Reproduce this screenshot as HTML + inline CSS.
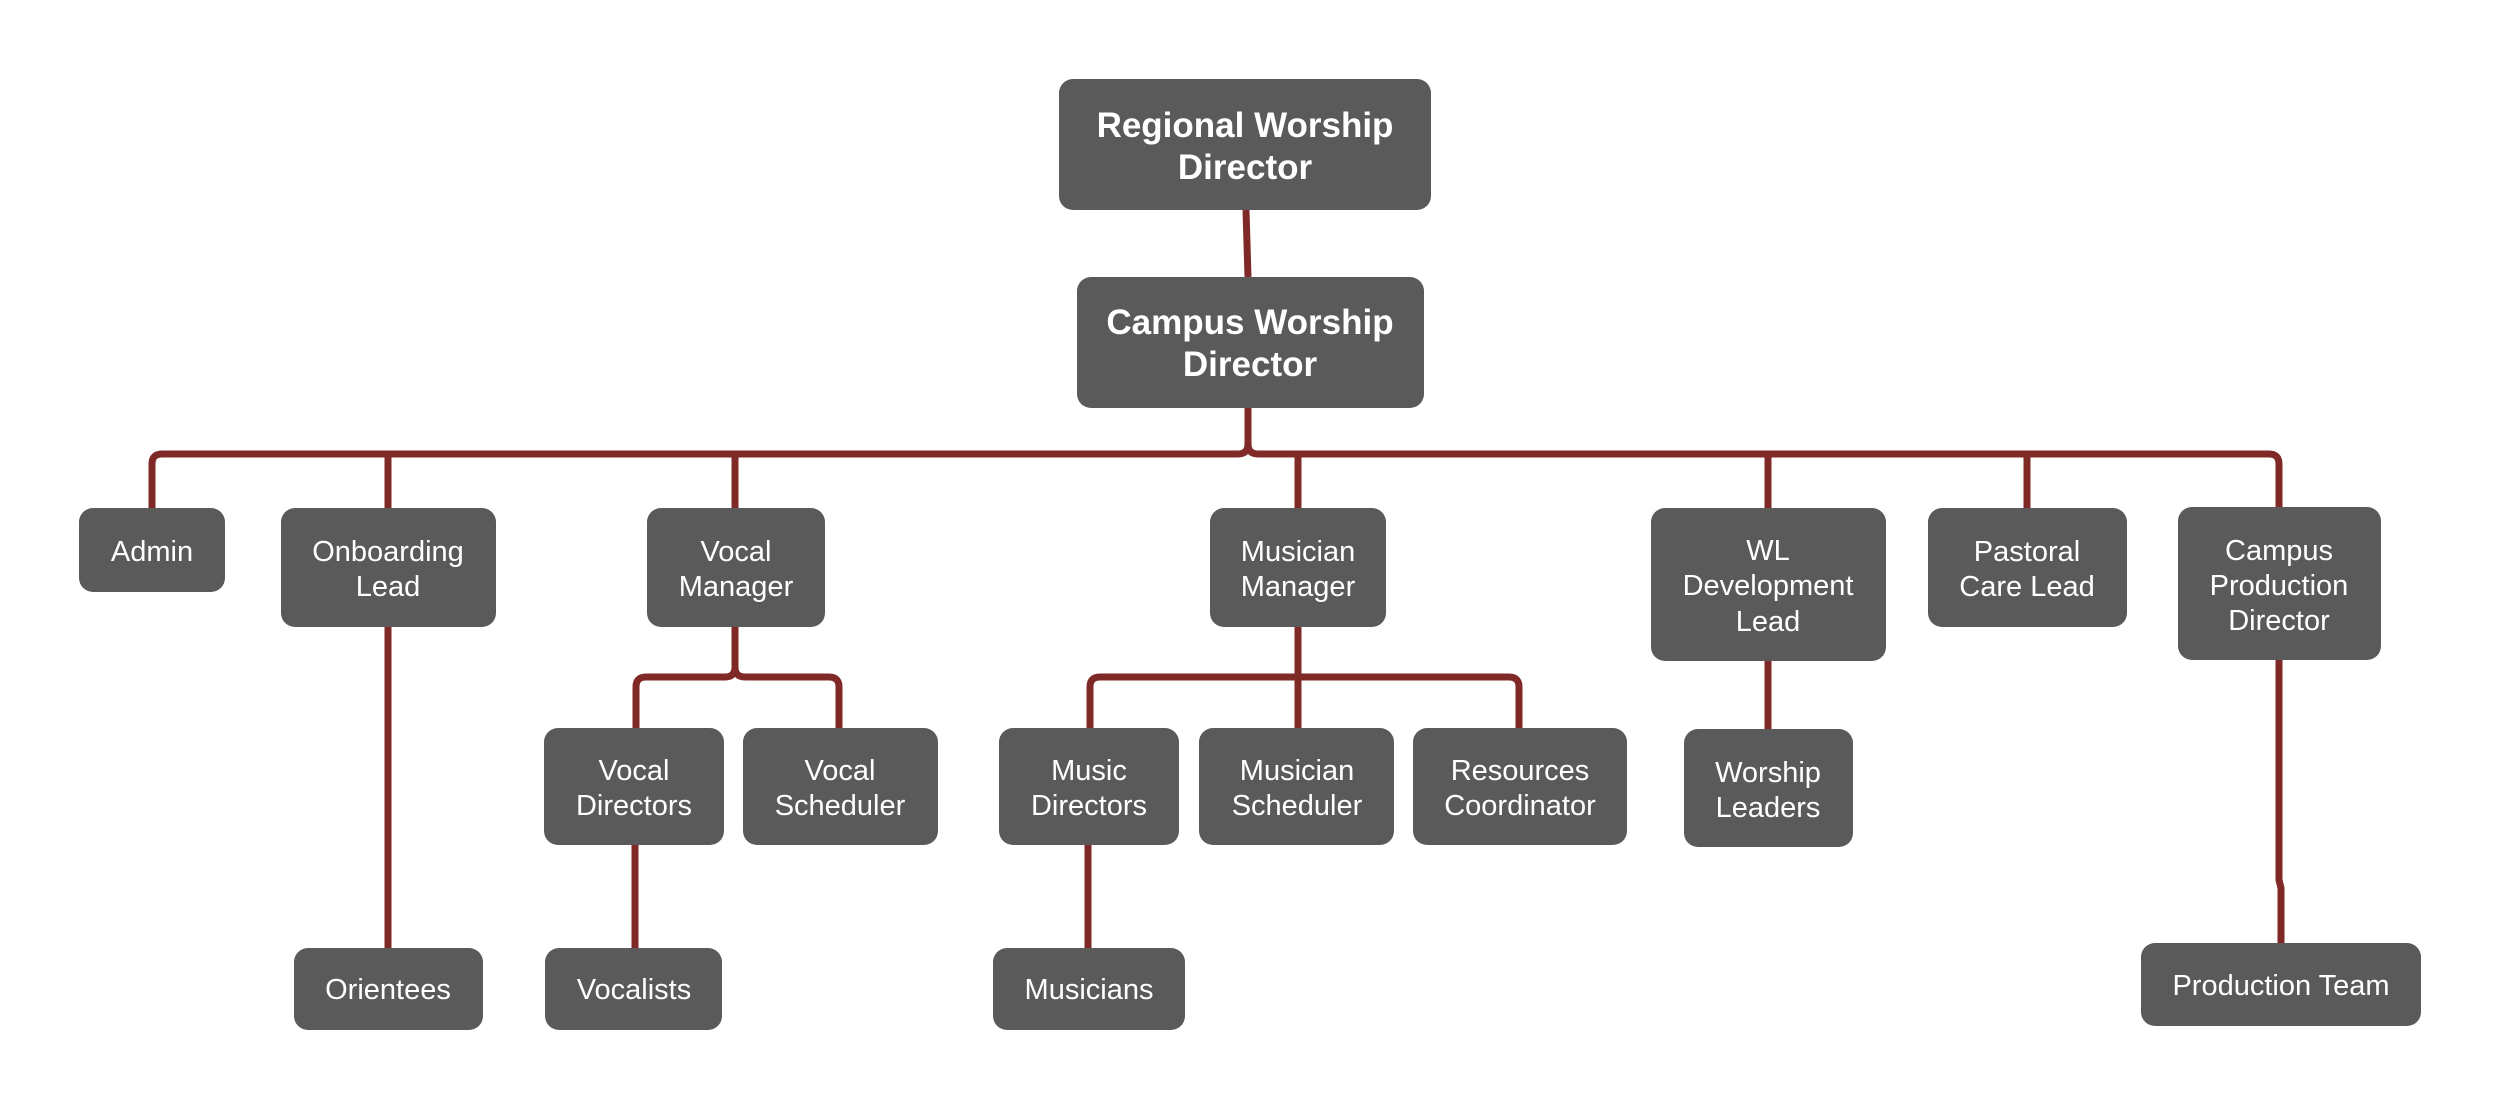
<!DOCTYPE html>
<html><head><meta charset="utf-8"><style>
html,body{margin:0;padding:0;background:#fff;}
svg{display:block}
text{font-family:"Liberation Sans",Arial,sans-serif;fill:#fff;text-anchor:middle}
.n{font-size:29px}
.b{font-size:35px;font-weight:bold}
rect{fill:#5a5a5a}
path{stroke:#7f2a27;stroke-width:7;fill:none;stroke-linejoin:round}
</style></head><body>
<svg width="2500" height="1111" viewBox="0 0 2500 1111">
<!-- connectors -->
<path d="M1246 210 L1248 277"/>
<path d="M1248 408 V444 Q1248 454 1238 454 H162 Q152 454 152 464 V508"/>
<path d="M1248 444 Q1248 454 1258 454 H2269 Q2279 454 2279 464 V507"/>
<path d="M388 454 V508 M735 454 V508 M1298 454 V508 M1768 454 V508 M2027 454 V508"/>
<path d="M735 627 V667 Q735 677 725 677 H646 Q636 677 636 687 V728"/>
<path d="M735 667 Q735 677 745 677 H829 Q839 677 839 687 V728"/>
<path d="M1298 627 V728 M1298 677 H1100 Q1090 677 1090 687 V728 M1298 677 H1509 Q1519 677 1519 687 V728"/>
<path d="M388 627 V948 M635 845 V948 M1088 845 V948 M1768 661 V729 M2279 660 V880 L2281 888 V943"/>
<!-- nodes -->
<rect x="1059" y="79" width="372" height="131" rx="14"/>
<text class="b"><tspan x="1245" y="137">Regional Worship</tspan><tspan x="1245" y="179">Director</tspan></text>
<rect x="1077" y="277" width="347" height="131" rx="14"/>
<text class="b"><tspan x="1250" y="334">Campus Worship</tspan><tspan x="1250" y="376">Director</tspan></text>

<rect x="79" y="508" width="146" height="84" rx="14"/>
<text class="n" x="152" y="561">Admin</text>
<rect x="281" y="508" width="215" height="119" rx="14"/>
<text class="n"><tspan x="388" y="561">Onboarding</tspan><tspan x="388" y="596">Lead</tspan></text>
<rect x="647" y="508" width="178" height="119" rx="14"/>
<text class="n"><tspan x="736" y="561">Vocal</tspan><tspan x="736" y="596">Manager</tspan></text>
<rect x="1210" y="508" width="176" height="119" rx="14"/>
<text class="n"><tspan x="1298" y="561">Musician</tspan><tspan x="1298" y="596">Manager</tspan></text>
<rect x="1651" y="508" width="235" height="153" rx="14"/>
<text class="n"><tspan x="1768" y="560">WL</tspan><tspan x="1768" y="595">Development</tspan><tspan x="1768" y="631">Lead</tspan></text>
<rect x="1928" y="508" width="199" height="119" rx="14"/>
<text class="n"><tspan x="2027" y="561">Pastoral</tspan><tspan x="2027" y="596">Care Lead</tspan></text>
<rect x="2178" y="507" width="203" height="153" rx="14"/>
<text class="n"><tspan x="2279" y="560">Campus</tspan><tspan x="2279" y="595">Production</tspan><tspan x="2279" y="630">Director</tspan></text>

<rect x="544" y="728" width="180" height="117" rx="14"/>
<text class="n"><tspan x="634" y="780">Vocal</tspan><tspan x="634" y="815">Directors</tspan></text>
<rect x="743" y="728" width="195" height="117" rx="14"/>
<text class="n"><tspan x="840" y="780">Vocal</tspan><tspan x="840" y="815">Scheduler</tspan></text>
<rect x="999" y="728" width="180" height="117" rx="14"/>
<text class="n"><tspan x="1089" y="780">Music</tspan><tspan x="1089" y="815">Directors</tspan></text>
<rect x="1199" y="728" width="195" height="117" rx="14"/>
<text class="n"><tspan x="1297" y="780">Musician</tspan><tspan x="1297" y="815">Scheduler</tspan></text>
<rect x="1413" y="728" width="214" height="117" rx="14"/>
<text class="n"><tspan x="1520" y="780">Resources</tspan><tspan x="1520" y="815">Coordinator</tspan></text>
<rect x="1684" y="729" width="169" height="118" rx="14"/>
<text class="n"><tspan x="1768" y="782">Worship</tspan><tspan x="1768" y="817">Leaders</tspan></text>

<rect x="294" y="948" width="189" height="82" rx="14"/>
<text class="n" x="388" y="999">Orientees</text>
<rect x="545" y="948" width="177" height="82" rx="14"/>
<text class="n" x="634" y="999">Vocalists</text>
<rect x="993" y="948" width="192" height="82" rx="14"/>
<text class="n" x="1089" y="999">Musicians</text>
<rect x="2141" y="943" width="280" height="83" rx="14"/>
<text class="n" x="2281" y="995">Production Team</text>
</svg>
</body></html>
